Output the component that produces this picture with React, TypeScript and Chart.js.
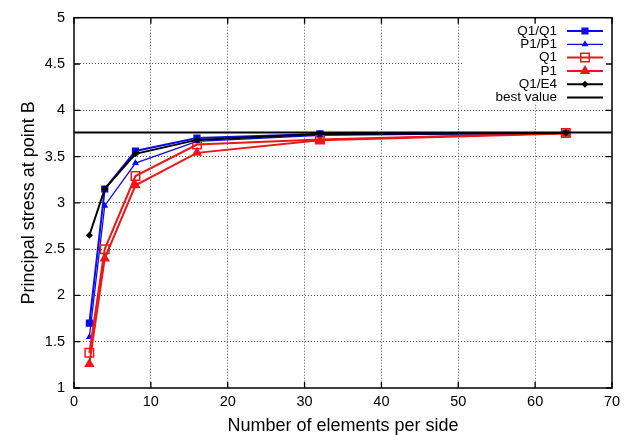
import React, { useEffect, useRef } from 'react';
import { Chart, registerables } from 'chart.js';
import { drawPoint } from 'chart.js/helpers';

Chart.register(...registerables);

const elementsPerSide = [2, 4, 8, 16, 32, 64];
const q1q1Values = [1.7, 3.15, 3.56, 3.7, 3.745, 3.755];
const p1p1Values = [1.55, 2.97, 3.43, 3.665, 3.73, 3.755];
const q1Values = [1.38, 2.5, 3.29, 3.63, 3.685, 3.755];
const p1Values = [1.26, 2.4, 3.19, 3.54, 3.675, 3.75];
const q1e4Values = [2.65, 3.15, 3.53, 3.68, 3.745, 3.755];
const bestValue = 3.76;
const bestValueRange = [0, 70];
const xTicks = [0, 10, 20, 30, 40, 50, 60, 70];
const yTicks = [1, 1.5, 2, 2.5, 3, 3.5, 4, 4.5, 5];
const yTickLabels = ['1', '1.5', '2', '2.5', '3', '3.5', '4', '4.5', '5'];
const seriesLabels = ['Q1/Q1', 'P1/P1', 'Q1', 'P1', 'Q1/E4', 'best value'];

const BLUE = 'rgb(12,12,232)';
const RED = 'rgb(236,24,24)';
const BLACK = '#000';
const FONT = "'Liberation Sans', Arial, Helvetica, sans-serif";

const toPoints = (xs: number[], ys: number[]) => xs.map((x, i) => ({ x, y: ys[i] }));

const styles = [
  { color: BLUE, pointStyle: 'rect', radius: 4, width: 2, fill: BLUE },
  { color: BLUE, pointStyle: 'triangle', radius: 2.5, width: 1.3, fill: BLUE },
  { color: RED, pointStyle: 'rect', radius: 6, width: 2, fill: 'rgba(0,0,0,0)' },
  { color: RED, pointStyle: 'triangle', radius: 4.5, width: 2, fill: RED },
  { color: BLACK, pointStyle: 'rectRot', radius: 2.5, width: 2, fill: BLACK },
  { color: BLACK, pointStyle: false as any, radius: 0, width: 2, fill: BLACK },
];

const framePlugin = {
  id: 'frame',
  afterDraw(chart: any) {
    const { ctx, chartArea: a, scales } = chart;
    ctx.save();
    ctx.strokeStyle = '#000';
    ctx.lineWidth = 1.3;
    const tl = 6;
    ctx.beginPath();
    xTicks.forEach((v) => {
      const px = scales.x.getPixelForValue(v);
      ctx.moveTo(px, a.bottom);
      ctx.lineTo(px, a.bottom - tl);
      ctx.moveTo(px, a.top);
      ctx.lineTo(px, a.top + tl);
    });
    yTicks.forEach((v) => {
      const py = scales.y.getPixelForValue(v);
      ctx.moveTo(a.left, py);
      ctx.lineTo(a.left + tl, py);
      ctx.moveTo(a.right, py);
      ctx.lineTo(a.right - tl, py);
    });
    ctx.stroke();

    // legend box (opaque)
    const boxLeft = 462;
    const boxTop = a.top + 1;
    const boxBottom = 104;
    ctx.fillStyle = '#fff';
    ctx.fillRect(boxLeft, boxTop, a.right - 1 - boxLeft, boxBottom - boxTop);
    ctx.beginPath();
    yTicks.forEach((v) => {
      const py = scales.y.getPixelForValue(v);
      if (py > boxTop && py < boxBottom) {
        ctx.moveTo(a.right, py);
        ctx.lineTo(a.right - tl, py);
      }
    });
    xTicks.forEach((v) => {
      const px = scales.x.getPixelForValue(v);
      if (px > boxLeft && px < a.right) {
        ctx.moveTo(px, a.top);
        ctx.lineTo(px, a.top + tl);
      }
    });
    ctx.stroke();

    ctx.font = `13.5px ${FONT}`;
    ctx.textAlign = 'right';
    ctx.textBaseline = 'middle';
    const textRight = 557;
    const lineStart = 567;
    const lineEnd = 603;
    seriesLabels.forEach((label, i) => {
      const y = 31 + i * 13.3;
      const s = styles[i];
      ctx.fillStyle = '#000';
      ctx.fillText(label, textRight, y);
      ctx.strokeStyle = s.color;
      ctx.lineWidth = s.width;
      ctx.beginPath();
      ctx.moveTo(lineStart, y);
      ctx.lineTo(lineEnd, y);
      ctx.stroke();
      if (s.pointStyle) {
        ctx.fillStyle = s.fill;
        ctx.strokeStyle = s.color;
        ctx.lineWidth = 1.5;
        drawPoint(ctx, { pointStyle: s.pointStyle, radius: s.radius, rotation: 0, borderWidth: 1.5 } as any, (lineStart + lineEnd) / 2, y);
      }
    });

    ctx.strokeStyle = '#000';
    ctx.lineWidth = 1.5;
    ctx.strokeRect(a.left, a.top, a.right - a.left, a.bottom - a.top);
    ctx.restore();
  },
};

export default function App() {
  const canvasRef = useRef<HTMLCanvasElement | null>(null);

  useEffect(() => {
    if (!canvasRef.current) return;
    const seriesData = [q1q1Values, p1p1Values, q1Values, p1Values, q1e4Values];
    const datasets: any[] = seriesData.map((vals, i) => ({
      label: seriesLabels[i],
      data: toPoints(elementsPerSide, vals),
      borderColor: styles[i].color,
      backgroundColor: styles[i].fill,
      pointBackgroundColor: styles[i].fill,
      pointBorderColor: styles[i].color,
      pointBorderWidth: 1.5,
      pointStyle: styles[i].pointStyle,
      pointRadius: styles[i].radius,
      borderWidth: styles[i].width,
      tension: 0,
      order: 10 - i,
    }));
    datasets.push({
      label: seriesLabels[5],
      data: bestValueRange.map((x) => ({ x, y: bestValue })),
      borderColor: BLACK,
      borderWidth: 2,
      pointRadius: 0,
      order: 7,
    });

    const tickFont = { family: FONT, size: 14.5 };
    const titleFont = { family: FONT, size: 18 };

    const chart = new Chart(canvasRef.current, {
      type: 'line',
      data: { datasets },
      options: {
        animation: false,
        responsive: true,
        maintainAspectRatio: false,
        layout: { padding: { top: 16, right: 25, left: 0, bottom: 0 } },
        plugins: { legend: { display: false }, tooltip: { enabled: false } },
        scales: {
          x: {
            type: 'linear',
            min: 0,
            max: 70,
            afterBuildTicks: (s: any) => {
              s.ticks = xTicks.map((v) => ({ value: v }));
            },
            ticks: { font: tickFont, color: '#000', padding: 5, maxRotation: 0, callback: (v: any) => String(v) },
            grid: {
              drawTicks: false,
              lineWidth: 1,
              color: (c: any) => (c.tick && (c.tick.value === 0 || c.tick.value === 70) ? 'rgba(0,0,0,0)' : '#555'),
            },
            border: { display: false, dash: [1, 2] },
            title: { display: true, text: 'Number of elements per side', font: titleFont, color: '#000', padding: { top: 0, bottom: -2 } },
            afterFit: (s: any) => {
              s.height = 47;
            },
          },
          y: {
            type: 'linear',
            min: 1,
            max: 5,
            afterBuildTicks: (s: any) => {
              s.ticks = yTicks.map((v) => ({ value: v }));
            },
            ticks: {
              font: tickFont,
              color: '#000',
              padding: 9,
              callback: (v: any) => {
                const idx = yTicks.indexOf(Number(v));
                return idx >= 0 ? yTickLabels[idx] : '';
              },
            },
            grid: {
              drawTicks: false,
              lineWidth: 1,
              color: (c: any) => (c.tick && (c.tick.value === 1 || c.tick.value === 5) ? 'rgba(0,0,0,0)' : '#555'),
            },
            border: { display: false, dash: [1, 2] },
            title: { display: true, text: 'Principal stress at point B', font: titleFont, color: '#000', padding: { top: 18, bottom: 0 } },
            afterFit: (s: any) => {
              s.width = 74;
            },
          },
        },
      } as any,
      plugins: [framePlugin],
    });
    return () => chart.destroy();
  }, []);

  return (
    <div style={{ position: 'fixed', left: 0, top: 0, width: 637, height: 435, background: '#fff' }}>
      <canvas ref={canvasRef} />
    </div>
  );
}
